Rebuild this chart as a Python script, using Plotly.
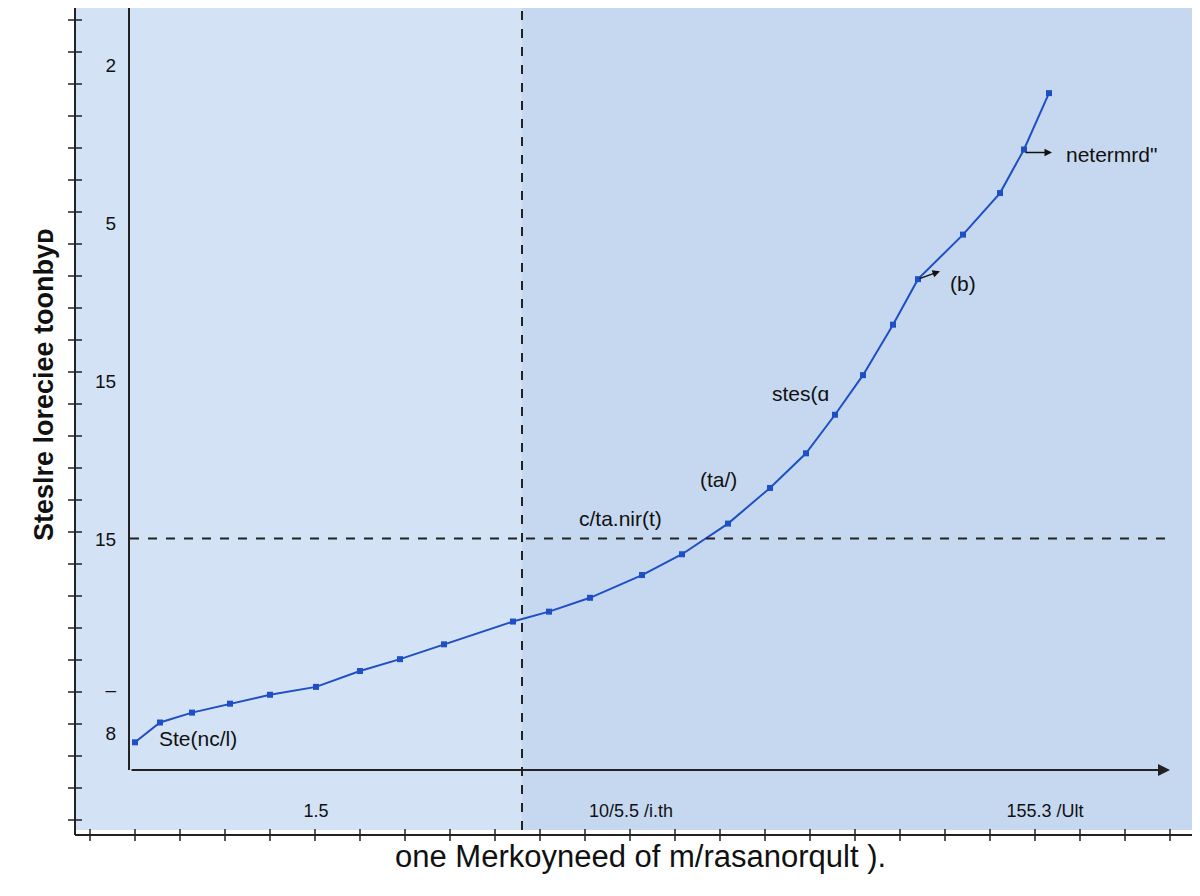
import plotly.graph_objects as go

# data (x in axis units, y in axis units)
xs = [135,160,192,230,270,316,360,400,444,513,549,590,642,682,728,770,806,835,863,893,918,963,1000,1024,1049]
ys_px = [742,722,712,703,694,686,670,658,643,620,610,596,573,552,521,485,450,411,371,320,274,229,187,143,86]
ys = [770 - v for v in ys_px]
ytick_vals = [770-58, 770-218, 770-377, 770-537, 770-688, 770-733]
ytick_text = ["2", "5", "15", "15", "–", "8"]
xtick_vals = [316, 631, 1045]
xtick_text = ["1.5", "10/5.5 /i.th", "155.3 /Ult"]

OFF = 8  # page body margin
W, H = 1200, 896
L, R, T, B = 130 - OFF, 38, 0, H - (770 - OFF)
pw, ph = W - L - R, H - T - B
def px(x): return (x - OFF - L) / pw
def py(y): return (H - B - (y - OFF)) / ph

fig = go.Figure()
fig.add_trace(go.Scatter(x=xs, y=ys, mode="lines+markers",
    line=dict(color="#1f4fc4", width=2), marker=dict(symbol="square", size=6, color="#1f4fc4"),
    hoverinfo="skip", showlegend=False))

shapes = [
    dict(type="rect", xref="paper", yref="paper", x0=px(75), x1=px(1210), y0=py(830), y1=py(-10),
         fillcolor="#c6d8f0", line_width=0, layer="below"),
    dict(type="rect", xref="paper", yref="paper", x0=px(75), x1=px(522), y0=py(830), y1=py(-10),
         fillcolor="#d3e2f5", line_width=0, layer="below"),
    dict(type="line", xref="x", yref="paper", x0=522, x1=522, y0=py(830), y1=py(-10),
         line=dict(color="#222", width=2, dash="dash")),
    dict(type="line", xref="paper", yref="y", x0=0, x1=1, y0=770-536, y1=770-536,
         line=dict(color="#222", width=2, dash="dash")),
    dict(type="line", xref="paper", yref="paper", x0=px(75), x1=px(75), y0=py(835), y1=py(-10),
         line=dict(color="#222", width=2)),
    dict(type="line", xref="paper", yref="paper", x0=px(75), x1=px(1210), y0=py(835), y1=py(835),
         line=dict(color="#222", width=2)),
]
for yp in range(20, 830, 32):
    shapes.append(dict(type="line", xref="paper", yref="paper", x0=px(68), x1=px(82),
                       y0=py(yp), y1=py(yp), line=dict(color="#222", width=1.5)))
for xp in range(90, 1200, 45):
    shapes.append(dict(type="line", xref="paper", yref="paper", x0=px(xp), x1=px(xp),
                       y0=py(829), y1=py(841), line=dict(color="#222", width=1.5)))

ann = [
    dict(x=1170, y=0, ax=130, ay=0, axref="x", ayref="y", xref="x", yref="y", text="",
         showarrow=True, arrowhead=2, arrowsize=1.2, arrowwidth=2, arrowcolor="#222"),
    dict(x=157, y=770-738, text="Ste(nc/l)", showarrow=False, xanchor="left", font=dict(size=21)),
    dict(x=620, y=770-516, text="c/ta.nir(t)", showarrow=False, font=dict(size=21)),
    dict(x=718, y=770-476, text="(ta/)", showarrow=False, font=dict(size=21)),
    dict(x=800, y=770-390, text="stes(ɑ", showarrow=False, font=dict(size=21)),
    dict(x=948, y=770-278, text="(b)", showarrow=False, xanchor="left", font=dict(size=21)),
    dict(x=940, y=770-266, ax=918, ay=770-274, axref="x", ayref="y", text="", showarrow=True,
         arrowhead=2, arrowwidth=1.5, arrowcolor="#111"),
    dict(x=1064, y=770-148, text="netermrd\"", showarrow=False, xanchor="left", font=dict(size=21)),
    dict(x=1052, y=770-146, ax=1024, ay=770-146, axref="x", ayref="y", text="", showarrow=True,
         arrowhead=2, arrowwidth=1.5, arrowcolor="#111"),
    dict(xref="paper", yref="paper", x=px(27), y=py(385), text="<b>Steslre loreciee toonbyᴅ</b>",
         textangle=-90, showarrow=False, font=dict(size=27)),
    dict(xref="paper", yref="paper", x=px(640), y=py(876), text="one Merkoyneed of m/rasanorqult ).",
         showarrow=False, font=dict(size=31)),
]

fig.update_layout(
    width=W, height=H, margin=dict(l=L, r=R, t=T, b=B),
    paper_bgcolor="white", plot_bgcolor="rgba(0,0,0,0)",
    font=dict(family="Liberation Sans, Arial", color="#111"),
    xaxis=dict(range=[130, 1170], tickvals=xtick_vals, ticktext=xtick_text, showgrid=False,
               zeroline=False, ticks="", tickfont=dict(size=18), ticklabelstandoff=28),
    yaxis=dict(range=[0, 770], tickvals=ytick_vals, ticktext=ytick_text, showgrid=False,
               zeroline=False, showline=True, linecolor="#222", linewidth=2,
               ticks="", tickfont=dict(size=19), ticklabelstandoff=8),
    shapes=shapes, annotations=ann,
)
fig.write_html("out.html")
